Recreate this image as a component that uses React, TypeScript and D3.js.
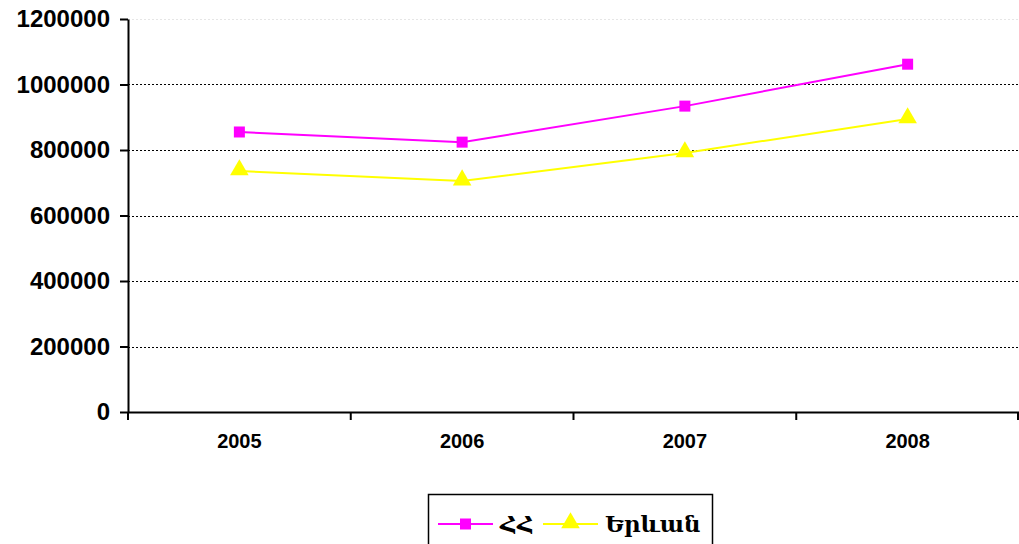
import React, { useEffect, useRef } from 'react';
import * as d3 from 'd3';

const WIDTH = 1019;
const HEIGHT = 544;
const MARGIN = { top: 19, right: 0, bottom: 132, left: 128 };

const years = ['2005', '2006', '2007', '2008'];
const hhValues = [855000, 824000, 934000, 1062000];
const yerevanValues = [736000, 705000, 791000, 895000];
const yTicks = [0, 200000, 400000, 600000, 800000, 1000000, 1200000];

const SERIES = [
  { name: 'ՀՀ', values: hhValues, color: '#FF00FF', marker: 'square' },
  { name: 'Երևան', values: yerevanValues, color: '#FFFF00', marker: 'triangle' },
];

export default function App() {
  const svgRef = useRef<SVGSVGElement | null>(null);

  useEffect(() => {
    const svg = d3.select(svgRef.current);
    svg.selectAll('*').remove();

    const innerW = WIDTH - MARGIN.left - MARGIN.right;
    const innerH = HEIGHT - MARGIN.top - MARGIN.bottom;

    const x = d3.scaleBand().domain(years).range([0, innerW]);
    const y = d3.scaleLinear().domain([0, 1200000]).range([innerH, 0]);

    const g = svg.append('g').attr('transform', `translate(${MARGIN.left},${MARGIN.top})`);

    // gridlines (the top one is barely visible in the original)
    g.selectAll('.grid')
      .data(yTicks.filter(t => t > 0))
      .join('line')
      .attr('x1', 0).attr('x2', innerW)
      .attr('y1', d => Math.round(y(d)) + 0.5).attr('y2', d => Math.round(y(d)) + 0.5)
      .attr('stroke', d => (d === 1200000 ? '#e6e6e6' : '#000'))
      .attr('stroke-width', 1)
      .attr('stroke-dasharray', '2,2');

    // y axis
    const yAxis = g.append('g')
      .call(d3.axisLeft(y).tickValues(yTicks).tickSize(8).tickSizeOuter(0).tickFormat(d => String(d)));
    yAxis.select('.domain').attr('stroke', '#000').attr('stroke-width', 2);
    yAxis.selectAll('.tick line').attr('stroke', '#000').attr('stroke-width', 2);
    yAxis.selectAll('.tick text')
      .attr('x', -18)
      .attr('font-family', 'Arial, "Liberation Sans", sans-serif')
      .attr('font-weight', 'bold')
      .attr('font-size', 24)
      .attr('fill', '#000');

    // x axis
    const xAxis = g.append('g')
      .attr('transform', `translate(0,${innerH})`)
      .call(d3.axisBottom(x).tickSize(0).tickSizeOuter(0));
    xAxis.select('.domain').attr('stroke', '#000').attr('stroke-width', 2);
    xAxis.selectAll('.tick text')
      .attr('y', 22)
      .attr('dy', '0.71em')
      .attr('font-family', 'Arial, "Liberation Sans", sans-serif')
      .attr('font-weight', 'bold')
      .attr('font-size', 20)
      .attr('fill', '#000');
    // category separators
    const seps = years.map((_, i) => x.step() * i).concat([innerW - 1]);
    xAxis.selectAll('.sep')
      .data(seps)
      .join('line')
      .attr('x1', d => d).attr('x2', d => d)
      .attr('y1', 0).attr('y2', 8)
      .attr('stroke', '#000').attr('stroke-width', 2);

    const cx = (i: number) => (x(years[i]) as number) + x.bandwidth() / 2;

    const line = d3.line<number>()
      .x((_, i) => cx(i))
      .y(d => y(d));

    const triangle = d3.symbol().type(d3.symbolTriangle).size(150);

    SERIES.forEach(s => {
      g.append('path')
        .datum(s.values)
        .attr('d', line)
        .attr('fill', 'none')
        .attr('stroke', s.color)
        .attr('stroke-width', 2);
      if (s.marker === 'square') {
        g.selectAll(null)
          .data(s.values)
          .join('rect')
          .attr('x', (_, i) => cx(i) - 5.5)
          .attr('y', d => y(d) - 5.5)
          .attr('width', 11).attr('height', 11)
          .attr('fill', s.color);
      } else {
        g.selectAll(null)
          .data(s.values)
          .join('path')
          .attr('d', triangle)
          .attr('transform', (d, i) => `translate(${cx(i)},${y(d) - 1})`)
          .attr('fill', s.color);
      }
    });

    // legend
    const legend = svg.append('g').attr('transform', 'translate(428,494)');
    legend.append('rect')
      .attr('x', 0.5).attr('y', 0.5)
      .attr('width', 284).attr('height', 60)
      .attr('fill', '#fff').attr('stroke', '#000').attr('stroke-width', 1.5);
    const items = [
      { s: SERIES[0], x0: 10, textX: 72 },
      { s: SERIES[1], x0: 115, textX: 177 },
    ];
    items.forEach(({ s, x0, textX }) => {
      legend.append('line')
        .attr('x1', x0).attr('x2', x0 + 55)
        .attr('y1', 30).attr('y2', 30)
        .attr('stroke', s.color).attr('stroke-width', 2);
      if (s.marker === 'square') {
        legend.append('rect')
          .attr('x', x0 + 22).attr('y', 24.5)
          .attr('width', 11).attr('height', 11)
          .attr('fill', s.color);
      } else {
        legend.append('path')
          .attr('d', triangle)
          .attr('transform', `translate(${x0 + 27.5},29)`)
          .attr('fill', s.color);
      }
      legend.append('text')
        .attr('x', textX).attr('y', 38)
        .attr('font-family', '"DejaVu Serif", serif')
        .attr('font-weight', 'bold')
        .attr('font-size', 23)
        .attr('fill', '#000')
        .text(s.name);
    });
  }, []);

  return (
    <svg
      ref={svgRef}
      width={WIDTH}
      height={HEIGHT}
      style={{ position: 'absolute', left: 0, top: 0, background: '#fff' }}
    />
  );
}
